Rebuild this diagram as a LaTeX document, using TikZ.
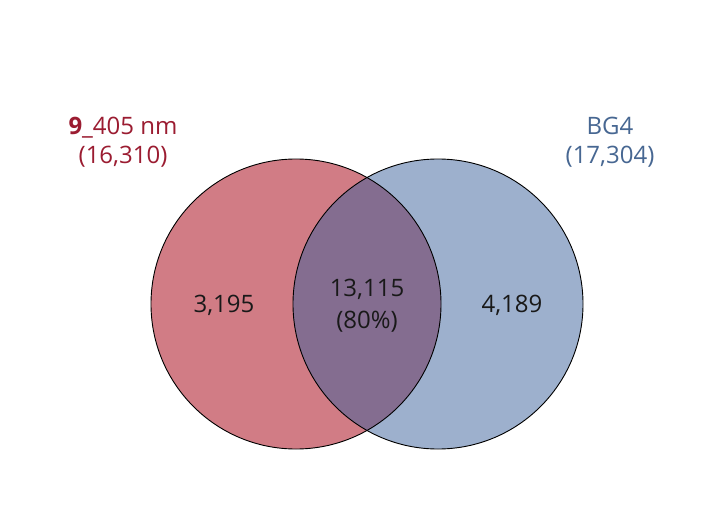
\documentclass[tikz,border=0pt]{standalone}
\usepackage{fontspec}
\setmainfont{Open Sans}
\definecolor{redfill}{HTML}{D17C85}
\definecolor{bluefill}{HTML}{9DB0CD}
\definecolor{midfill}{HTML}{846D90}
\definecolor{redtext}{HTML}{9B1C31}
\definecolor{bluetext}{HTML}{476792}
\begin{document}
\begin{tikzpicture}[x=1pt,y=-1pt,
  lbl/.style={font=\fontsize{24}{28}\selectfont, inner sep=0pt, anchor=base},
  num/.style={font=\fontsize{24}{28}\selectfont, inner sep=0pt, anchor=base, text=black!90}]
\useasboundingbox (0,0) rectangle (717,524);
\fill[white] (0,0) rectangle (717,524);
\coordinate (cl) at (296,304);
\coordinate (cr) at (438,304);
\fill[redfill] (cl) circle[radius=145];
\fill[bluefill] (cr) circle[radius=145];
\begin{scope}
  \clip (cl) circle[radius=145];
  \fill[midfill] (cr) circle[radius=145];
\end{scope}
\draw[black, line width=0.9pt] (cl) circle[radius=145];
\draw[black, line width=0.9pt] (cr) circle[radius=145];
\node[lbl, text=redtext] (ltitle) at (123,135) {\textbf{9}\_405 nm};
\node[lbl, text=redtext] (lcount) at (123,163) {(16,310)};
\node[lbl, text=bluetext] (rtitle) at (610,135) {BG4};
\node[lbl, text=bluetext] (rcount) at (610,163) {(17,304)};
\node[num] (lnum) at (224,312) {3,195};
\node[num] (mnum) at (367,296) {13,115};
\node[num] (mpct) at (367,328) {(80\%)};
\node[num] (rnum) at (512,312) {4,189};
\end{tikzpicture}
\end{document}
